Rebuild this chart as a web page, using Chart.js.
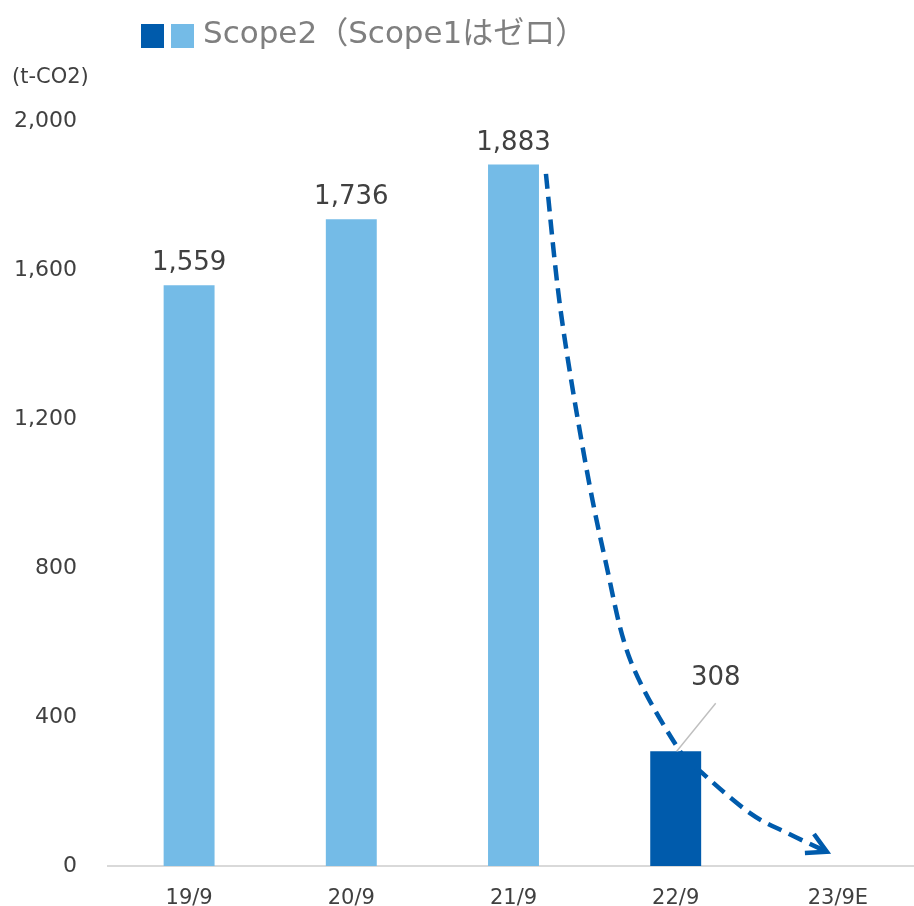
<!DOCTYPE html>
<html>
<head>
<meta charset="utf-8">
<script src="https://cdn.jsdelivr.net/npm/chart.js@4/dist/chart.umd.min.js"></script>
<style>
  html, body { margin: 0; padding: 0; background: #fff; overflow: hidden; width: 914px; height: 906px; }
  #wrap { width: 914px; height: 906px; overflow: hidden; position: relative; }
  canvas { display: block; }
</style>
</head>
<body>
<div id="wrap"><canvas id="barChart" width="920" height="906"></canvas></div>
<script>
// data
const categories = ['19/9', '20/9', '21/9', '22/9', '23/9E'];
const scope2 = [1559, 1736, 1883, 308, null];
const yTicks = [0, 400, 800, 1200, 1600, 2000];
const unitLabel = '(t-CO2)';
const legendText = 'Scope2（Scope1はゼロ）';
// dashed trend arrow, in (category index, value) space
const trendPath = [
  [2.2, 1858], [2.29, 1493], [2.437, 1098], [2.566, 821], [2.72, 553],
  [3.01, 319], [3.163, 250], [3.458, 142], [3.686, 89], [3.932, 38]
];

const LIGHT = '#74BBE7';
const DARK = '#005BAC';
const TEXT = '#404040';
const FONT = '"DejaVu Sans", "Noto Sans CJK JP", sans-serif';

const barColors = categories.map((c, i) => i === 3 ? DARK : LIGHT);

const decorPlugin = {
  id: 'decor',
  afterDatasetsDraw(chart) {
    const ctx = chart.ctx;
    const x = chart.scales.x, y = chart.scales.y;
    const meta = chart.getDatasetMeta(0);

    ctx.save();
    // value labels
    ctx.font = '26px ' + FONT;
    ctx.fillStyle = TEXT;
    ctx.textAlign = 'center';
    ctx.textBaseline = 'alphabetic';
    scope2.forEach((v, i) => {
      if (v == null) return;
      const bar = meta.data[i];
      const txt = v.toLocaleString('en-US');
      if (i === 3) {
        // callout with leader line
        ctx.strokeStyle = '#BFBFBF';
        ctx.lineWidth = 1.5;
        ctx.beginPath();
        ctx.moveTo(bar.x + 1, bar.y);
        ctx.lineTo(bar.x + 40, bar.y - 48);
        ctx.stroke();
        ctx.fillText(txt, bar.x + 40, bar.y - 66);
      } else {
        ctx.fillText(txt, bar.x, bar.y - 15);
      }
    });

    // dashed curved arrow
    const pts = trendPath.map(p => [x.getPixelForValue(p[0]), y.getPixelForValue(p[1])]);
    ctx.strokeStyle = DARK;
    ctx.lineWidth = 4.5;
    ctx.setLineDash([15, 8]);
    ctx.beginPath();
    ctx.moveTo(pts[0][0], pts[0][1]);
    for (let i = 0; i < pts.length - 1; i++) {
      const p0 = pts[Math.max(i - 1, 0)], p1 = pts[i], p2 = pts[i + 1], p3 = pts[Math.min(i + 2, pts.length - 1)];
      const c1x = p1[0] + (p2[0] - p0[0]) / 6, c1y = p1[1] + (p2[1] - p0[1]) / 6;
      const c2x = p2[0] - (p3[0] - p1[0]) / 6, c2y = p2[1] - (p3[1] - p1[1]) / 6;
      ctx.bezierCurveTo(c1x, c1y, c2x, c2y, p2[0], p2[1]);
    }
    ctx.stroke();
    ctx.setLineDash([]);
    const end = pts[pts.length - 1], prev = pts[pts.length - 2];
    const ang = Math.atan2(end[1] - prev[1], end[0] - prev[0]);
    const len = 22, spread = 0.5;
    ctx.beginPath();
    ctx.moveTo(end[0] - len * Math.cos(ang - spread), end[1] - len * Math.sin(ang - spread));
    ctx.lineTo(end[0], end[1]);
    ctx.lineTo(end[0] - len * Math.cos(ang + spread), end[1] - len * Math.sin(ang + spread));
    ctx.stroke();

    // legend
    ctx.fillStyle = DARK;
    ctx.fillRect(141, 24, 23, 24);
    ctx.fillStyle = LIGHT;
    ctx.fillRect(171, 24, 23, 24);
    ctx.font = '31px ' + FONT;
    ctx.fillStyle = '#7F7F7F';
    ctx.textAlign = 'left';
    ctx.fillText(legendText, 203, 43);

    // unit
    ctx.font = '21px ' + FONT;
    ctx.fillStyle = TEXT;
    ctx.textBaseline = 'middle';
    ctx.fillText(unitLabel, 12, 78);
    ctx.restore();
  }
};

new Chart(document.getElementById('barChart'), {
  type: 'bar',
  data: {
    labels: categories,
    datasets: [{
      label: 'Scope2',
      data: scope2,
      backgroundColor: barColors,
      barPercentage: 1,
      categoryPercentage: 0.314
    }]
  },
  options: {
    responsive: false,
    animation: false,
    layout: { padding: { top: 121, right: 1, left: 0, bottom: 0 } },
    plugins: { legend: { display: false }, tooltip: { enabled: false } },
    scales: {
      x: {
        grid: { display: false, drawTicks: false },
        border: { color: '#D9D9D9', width: 2 },
        ticks: { color: TEXT, font: { family: FONT, size: 21 }, padding: 20 },
        afterFit(s) { s.height = 40; s.paddingLeft = 0; s.paddingRight = 0; }
      },
      y: {
        min: 0,
        max: 2000,
        afterBuildTicks(s) { s.ticks = yTicks.map(v => ({ value: v })); },
        grid: { display: false, drawTicks: false },
        border: { display: false },
        ticks: {
          color: TEXT,
          font: { family: FONT, size: 22 },
          padding: 31,
          callback: v => v.toLocaleString('en-US')
        },
        afterFit(s) { s.width = 108; s.paddingTop = 0; s.paddingBottom = 0; }
      }
    }
  },
  plugins: [decorPlugin]
});
</script>
</body>
</html>
